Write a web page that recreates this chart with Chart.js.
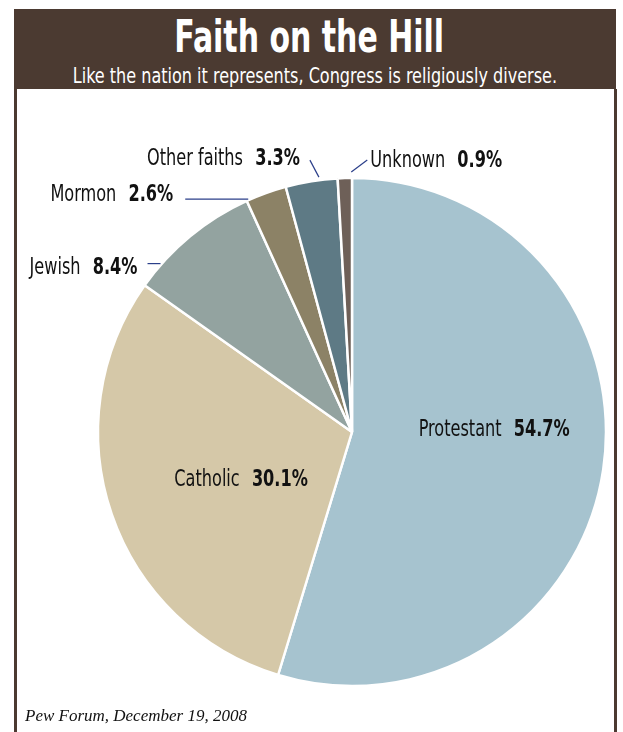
<!DOCTYPE html>
<html>
<head>
<meta charset="utf-8">
<script src="https://cdn.jsdelivr.net/npm/chart.js@4"></script>
<style>
  body { margin: 0; background: #fff; width: 623px; height: 732px; position: relative; overflow: hidden; }
  #chart { position: absolute; left: 0; top: 0; }
  .band { position: absolute; left: 14px; top: 9px; width: 602px; height: 80px; background: #4b3a31; color: #fff;
          font-family: "DejaVu Sans Condensed", "DejaVu Sans", sans-serif; text-align: center; }
  .band h1 { margin: 0; position: absolute; left: -12px; right: 0; top: 4px; font-size: 45px; font-weight: bold; line-height: 48px; }
  .band p { margin: 0; position: absolute; left: 0; right: 0; top: 54px; font-size: 21px; line-height: 26px; }
  .band span { display: inline-block; white-space: nowrap; transform-origin: center; }
  .side { position: absolute; top: 89px; width: 2.5px; height: 643px; background: #4b3a31; }
  .note { position: absolute; left: 25px; top: 706px; font-family: "Liberation Serif", "DejaVu Serif", serif;
          font-style: italic; font-size: 17px; color: #111; }
</style>
</head>
<body>
<canvas id="chart" width="623" height="732"></canvas>
<div class="band">
  <h1><span style="transform: scaleX(0.74)">Faith on the Hill</span></h1>
  <p><span style="transform: scaleX(0.85)">Like the nation it represents, Congress is religiously diverse.</span></p>
</div>
<div class="side" style="left:14px"></div>
<div class="side" style="left:614px"></div>
<div class="note">Pew Forum, December 19, 2008</div>

<script>
// Data, in drawing order (clockwise from 12 o'clock)
const faiths = ["Protestant", "Catholic", "Jewish", "Mormon", "Other faiths", "Unknown"];
const shares = [54.7, 30.1, 8.4, 2.6, 3.3, 0.9];
const sliceColors = ["#a6c3cf", "#d5c8a8", "#93a3a0", "#8c8266", "#5e7a85", "#6e6058"];

// Where each label sits: t = position along the slice, inside labels use a radius fraction,
// outside labels get a leader line (lx, ly) and a text offset from the line end
const labelSpots = [
    { inside: true, t: 0.452, r: 0.56 },
    { inside: true, t: 0.458, r: 0.476 },
    { t: 0.2, gap: 1, lx: -13, ly: 0, align: "right", tx: -10, ty: 4 },
    { t: 0.05, gap: 1, lx: -63, ly: 0, align: "right", tx: -12, ty: -4 },
    { t: 0.65, gap: 3, lx: -9, ly: -17, align: "right", tx: -10, ty: -1 },
    { t: 0.95, gap: 6, lx: 16, ly: -12, align: "left", tx: 3, ty: 1 }
];

const labelFont = '"DejaVu Sans Condensed", "DejaVu Sans", sans-serif';
const squeeze = 0.78; // the original uses a condensed face

// Draw "Name  value%" with the value in bold
function drawLabel(ctx, name, pct, x, y, align) {
    ctx.font = "23px " + labelFont;
    const w1 = (ctx.measureText(name + " ").width + 9) * squeeze;
    ctx.font = "bold 23px " + labelFont;
    const w2 = ctx.measureText(pct).width * squeeze;
    let left = x;
    if (align === "center") left = x - (w1 + w2) / 2;
    if (align === "right") left = x - (w1 + w2);
    ctx.save();
    ctx.fillStyle = "#111";
    ctx.textBaseline = "middle";
    ctx.textAlign = "left";
    ctx.translate(left, y);
    ctx.scale(squeeze, 1);
    ctx.font = "23px " + labelFont;
    ctx.fillText(name, 0, 0);
    ctx.font = "bold 23px " + labelFont;
    ctx.fillText(pct, w1 / squeeze, 0);
    ctx.restore();
}

const sliceLabels = {
    id: "sliceLabels",
    afterDatasetsDraw(chart) {
        const ctx = chart.ctx;
        const meta = chart.getDatasetMeta(0);
        ctx.save();
        meta.data.forEach(function (arc, i) {
            const spot = labelSpots[i];
            const p = arc.getProps(["x", "y", "startAngle", "endAngle", "outerRadius"], true);
            const a = p.startAngle + spot.t * (p.endAngle - p.startAngle);
            const pct = shares[i].toFixed(1) + "%";
            if (spot.inside) {
                const r = p.outerRadius * spot.r;
                drawLabel(ctx, faiths[i], pct, p.x + Math.cos(a) * r, p.y + Math.sin(a) * r, "center");
                return;
            }
            const r = p.outerRadius + spot.gap;
            const x0 = p.x + Math.cos(a) * r;
            const y0 = p.y + Math.sin(a) * r;
            const x1 = x0 + spot.lx;
            const y1 = y0 + spot.ly;
            ctx.strokeStyle = "#2b3f8a";
            ctx.lineWidth = 1.2;
            ctx.beginPath();
            ctx.moveTo(x0, y0);
            ctx.lineTo(x1, y1);
            ctx.stroke();
            drawLabel(ctx, faiths[i], pct, x1 + spot.tx, y1 + spot.ty, spot.align);
        });
        ctx.restore();
    }
};

new Chart(document.getElementById("chart"), {
    type: "pie",
    data: {
        labels: faiths,
        datasets: [{
            data: shares,
            backgroundColor: sliceColors,
            borderColor: "#ffffff",
            borderWidth: 2.5,
            radius: 254
        }]
    },
    options: {
        responsive: false,
        animation: false,
        layout: { padding: { left: 81, right: 0, top: 132, bottom: 0 } },
        plugins: { legend: { display: false }, tooltip: { enabled: false } }
    },
    plugins: [sliceLabels]
});
</script>
</body>
</html>
